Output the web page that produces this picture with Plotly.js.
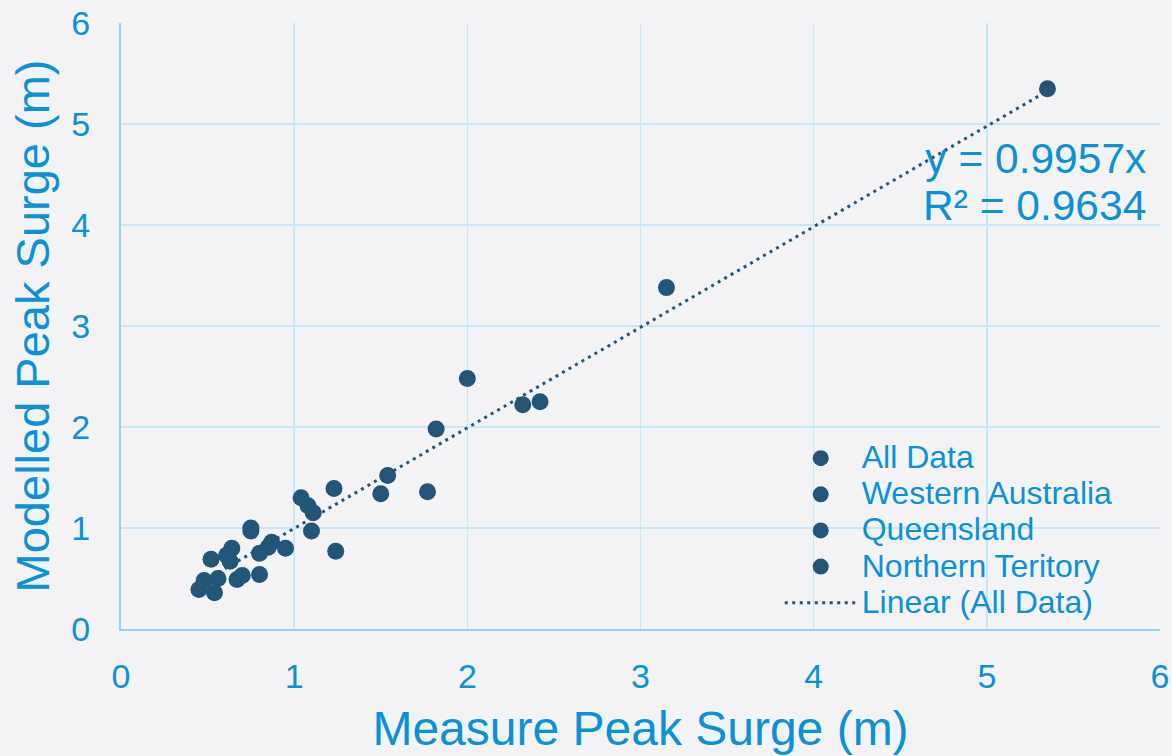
<!DOCTYPE html>
<html>
<head>
<meta charset="utf-8">
<script src="https://cdn.plot.ly/plotly-3.0.1.min.js"></script>
<style>html,body{margin:0;padding:0;background:#f3f3f6;}#chart{width:1172px;height:756px;}</style>
</head>
<body>
<div id="chart"></div>
<script>
// Measured vs modelled peak surge (m)
const measured = [5.35, 3.15, 2.00, 2.32, 2.42, 1.82, 1.54, 1.23, 1.50, 1.77, 1.04, 1.08, 1.11, 1.10, 1.24, 0.95,
                  0.75, 0.75, 0.87, 0.85, 0.80, 0.64, 0.61, 0.63, 0.52, 0.70, 0.67, 0.80, 0.56, 0.48, 0.45, 0.54];
const modelled = [5.35, 3.38, 2.48, 2.22, 2.25, 1.98, 1.52, 1.39, 1.34, 1.36, 1.30, 1.22, 1.15, 0.97, 0.77, 0.80,
                  1.00, 0.97, 0.86, 0.81, 0.75, 0.80, 0.73, 0.67, 0.69, 0.53, 0.49, 0.54, 0.50, 0.48, 0.39, 0.36];
const seriesNames = ["All Data", "Western Australia", "Queensland", "Northern Teritory"];
const trendName = "Linear (All Data)";
const slope = 0.9957;
const rSquared = 0.9634;
const axisTicks = [0, 1, 2, 3, 4, 5, 6];

const dark = '#235578';
const txt = '#0a91d7';
const font = 'Arial';

const xmin = Math.min(...measured), xmax = Math.max(...measured);
const trendX = [xmin, xmax];
const trendY = trendX.map(v => slope * v);

const big = s => '<span style="font-size:32px">' + s + '</span>';

const traces = [];
traces.push({x: measured, y: modelled, name: big(seriesNames[0]), type: 'scatter', mode: 'markers',
  marker: {color: dark, size: 17}});
for (let i = 1; i < seriesNames.length; i++) {
  traces.push({x: [null], y: [null], name: big(seriesNames[i]), type: 'scatter', mode: 'markers',
    marker: {color: dark, size: 17}});
}
traces.push({x: trendX, y: trendY, name: big(trendName), type: 'scatter', mode: 'lines',
  line: {color: dark, width: 3, dash: '3px,4.5px'}});

const axisCommon = {
  range: [0, 6], tickvals: axisTicks, ticktext: axisTicks.map(String),
  showgrid: true, gridcolor: '#c4e8fa', gridwidth: 1.5,
  showline: true, linecolor: '#92d5f5', linewidth: 2,
  zeroline: false, ticks: '',
  tickfont: {family: font, size: 34, color: txt}
};

const layout = {
  width: 1172, height: 756,
  paper_bgcolor: '#f3f3f6', plot_bgcolor: '#f3f3f6',
  margin: {l: 121, r: 12, t: 23, b: 127},
  font: {family: font, color: txt},
  xaxis: Object.assign({}, axisCommon, {
    title: {text: 'Measure Peak Surge (m)', font: {family: font, size: 48, color: txt}, standoff: 18},
    ticklabelstandoff: 16
  }),
  yaxis: Object.assign({}, axisCommon, {
    title: {text: 'Modelled Peak Surge (m)', font: {family: font, size: 47, color: txt}, standoff: 7},
    ticklabelstandoff: 22
  }),
  legend: {
    x: 0.634, y: 0.320, xanchor: 'left', yanchor: 'top', itemwidth: 72,
    bgcolor: 'rgba(0,0,0,0)', font: {family: font, size: 25.5, color: txt}
  },
  annotations: [{
    xref: 'x', yref: 'y', x: 5.93, y: 4.43, xanchor: 'right', yanchor: 'middle', align: 'right',
    showarrow: false,
    text: '<span style="font-size:42.5px">y = ' + slope.toFixed(4) + 'x</span><br><span style="font-size:42.5px">R² = ' + rSquared.toFixed(4) + '</span>',
    font: {family: font, size: 36, color: txt}
  }]
};

Plotly.newPlot('chart', traces, layout, {displayModeBar: false, staticPlot: true});
</script>
</body>
</html>
